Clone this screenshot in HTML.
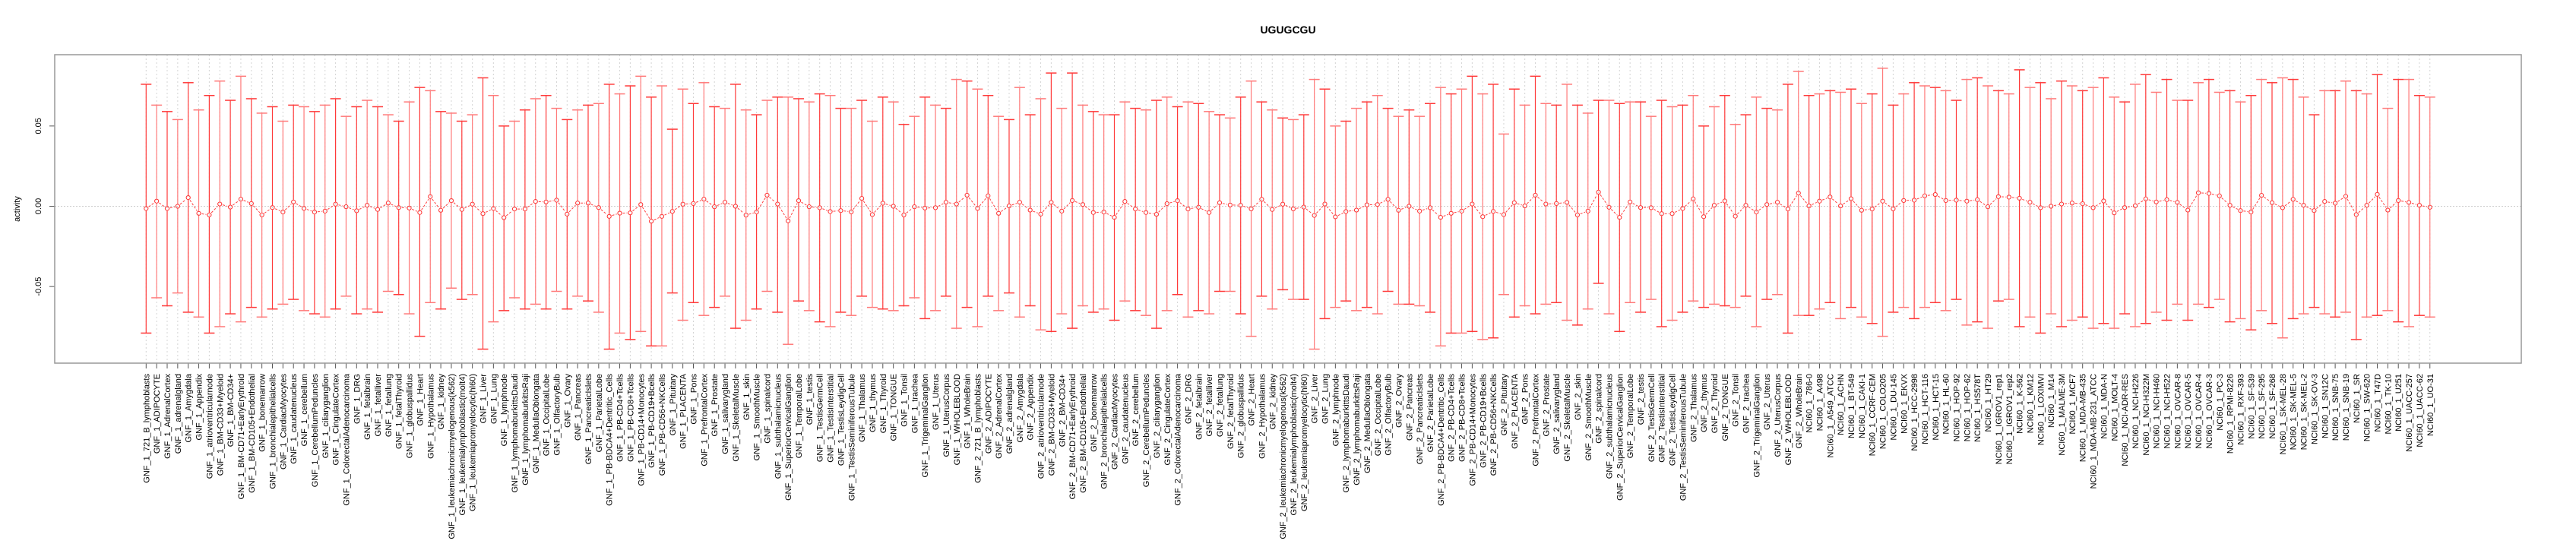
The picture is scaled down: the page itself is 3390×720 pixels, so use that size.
<!DOCTYPE html>
<html><head><meta charset="utf-8"><style>
html,body{margin:0;padding:0;background:#fff}
svg{display:block;font-family:"Liberation Sans",Arial,sans-serif}
</style></head><body>
<svg id="chart" width="3390" height="720" viewBox="0 0 3390 720" xmlns="http://www.w3.org/2000/svg">
<text x="1695" y="44" text-anchor="middle" font-size="14" font-weight="bold">UGUGCGU</text>
<g id="grid"></g><g id="bars"></g><g id="xlabels"></g><g id="yaxis"></g>
<rect x="72" y="72" width="3246" height="406" fill="none" stroke="#999" stroke-width="1.5"/>
<text transform="translate(26,275) rotate(-90)" text-anchor="middle" font-size="11">activity</text>
</svg>
<script>
const tissues=["721_B_lymphoblasts","ADIPOCYTE","AdrenalCortex","adrenalgland","Amygdala","Appendix","atrioventricularnode","BM-CD33+Myeloid","BM-CD34+","BM-CD71+EarlyErythroid","BM-CD105+Endothelial","bonemarrow","bronchialepithelialcells","CardiacMyocytes","caudatenucleus","cerebellum","CerebellumPeduncles","ciliaryganglion","CingulateCortex","ColorectalAdenocarcinoma","DRG","fetalbrain","fetalliver","fetallung","fetalThyroid","globuspallidus","Heart","Hypothalamus","kidney","leukemiachronicmyelogenous(k562)","leukemialymphoblastic(molt4)","leukemiapromyelocytic(hl60)","Liver","Lung","lymphnode","lymphomaburkittsDaudi","lymphomaburkittsRaji","MedullaOblongata","OccipitalLobe","OlfactoryBulb","Ovary","Pancreas","PancreaticIslets","ParietalLobe","PB-BDCA4+Dentritic_Cells","PB-CD4+Tcells","PB-CD8+Tcells","PB-CD14+Monocytes","PB-CD19+Bcells","PB-CD56+NKCells","Pituitary","PLACENTA","Pons","PrefrontalCortex","Prostate","salivarygland","SkeletalMuscle","skin","SmoothMuscle","spinalcord","subthalamicnucleus","SuperiorCervicalGanglion","TemporalLobe","testis","TestisGermCell","TestisInterstitial","TestisLeydigCell","TestisSeminiferousTubule","Thalamus","thymus","Thyroid","TONGUE","Tonsil","trachea","TrigeminalGanglion","Uterus","UterusCorpus","WHOLEBLOOD","WholeBrain"];
const cellLines=["786-0","A498","A549_ATCC","ACHN","BT-549","CAKI-1","CCRF-CEM","COLO205","DU-145","EKVX","HCC-2998","HCT-116","HCT-15","HL-60","HOP-92","HOP-62","HS578T","HT29","IGROV1_rep1","IGROV1_rep2","K-562","KM12","LOXIMVI","M14","MALME-3M","MCF7","MDA-MB-435","MDA-MB-231_ATCC","MDA-N","MOLT-4","NCI-ADR-RES","NCI-H226","NCI-H322M","NCI-H460","NCI-H522","OVCAR-8","OVCAR-5","OVCAR-4","OVCAR-3","PC-3","RPMI-8226","RXF-393","SF-539","SF-295","SF-268","SK-MEL-28","SK-MEL-5","SK-MEL-2","SK-OV-3","SN12C","SNB-75","SNB-19","SR","SW-620","T47D","TK-10","U251","UACC-257","UACC-62","UO-31"];
const categories=tissues.map(t=>"GNF_1_"+t).concat(tissues.map(t=>"GNF_2_"+t)).concat(cellLines.map(c=>"NCI60_1_"+c));
// values in thousandths of activity
const means=[-1.4,3.2,-1.4,0,5.4,-4.4,-5.4,1.4,-0.5,4.4,1.7,-5.4,-0.8,-3.6,2.7,-1.3,-3.6,-3,1.3,-0.3,-2.8,0.6,-2,2,-0.8,-1.1,-3.9,6,-2.5,3.5,-2,1.3,-4.6,-1.4,-7.1,-1.7,-1.7,3,2.7,3.8,-4.9,2,2,-0.8,-6.3,-4.3,-4.1,1.1,-9.3,-6.3,-3.2,1.3,1.7,4.4,-0.3,2.5,0,-5.5,-3.6,6.9,1.4,-9.1,3.5,-0.3,-0.9,-3.3,-2.7,-3.5,4.9,-5.2,1.9,0,-5.4,-0.3,-1.1,
-0.9,2.5,1.4,6.9,-1.3,6.5,-4.4,0.2,2.5,-2.4,-4.9,2.4,-3,3.6,1.1,-3.9,-3.6,-6.9,3,-1.7,-3.9,-5,1.6,3.5,-1.7,-0.6,-3.9,2.2,0.8,0.6,-1.6,4.3,-2,1.3,-1.6,-0.5,-5.7,1.4,-6.6,-3.3,-2.4,0.9,1.1,4.3,-2.5,0,-3,-0.9,-6.9,-4.4,-3,1.4,-6.5,-3.2,-5.2,2.2,0.2,6.9,1.4,1.7,2.4,-5.4,-3,8.8,-0.6,-6.9,2.7,-0.8,-0.9,-4.6,-4.6,-1.4,4.6,-6.5,0.6,
3.3,-6.2,0.6,-3.6,1.1,2.5,-1.7,8.2,0.2,3.2,5.8,0.2,4.7,-2.5,-1.7,3.2,-1.6,3.6,3.8,6.5,7.3,3.6,3.8,3.2,4.1,-0.3,6,5.7,5,2.5,-0.9,0,1.4,2,1.6,-0.9,3.3,-4.1,-0.8,0.3,4.6,2.7,4.1,2.4,-2.4,8.4,8,6.5,0.6,-2.7,-3.6,6.8,2.2,-0.9,4.3,0.6,-2.7,3,1.9,6.2,-5.2,0.6,7.4,-2.4,3.6,2.4,0.6,-0.6];
const uppers=[76,63,59,54,77,60,69,78,66,81,67,58,62,53,63,62,59,63,67,56,62,66,62,57,53,65,74,72,59,58,53,57,80,69,50,53,60,67,69,61,54,60,63,64,76,70,75,81,68,75,48,73,64,77,62,61,76,60,57,66,68,68,67,65,70,69,61,61,66,53,68,65,51,56,68,
63,61,79,78,73,69,56,54,74,57,67,83,61,83,63,59,57,57,65,61,60,66,68,62,65,64,59,57,55,68,78,65,60,55,54,57,79,73,50,53,61,65,69,61,56,60,56,64,74,70,73,81,70,76,45,73,63,81,64,63,76,63,58,66,66,64,65,65,56,66,62,63,69,50,62,
69,51,57,68,61,60,76,84,69,70,72,71,73,64,70,86,63,70,77,75,74,72,66,79,80,75,72,70,85,74,77,67,78,75,72,74,80,68,65,76,82,71,79,66,66,77,79,71,72,65,69,79,77,80,79,68,57,72,72,78,72,70,82,61,79,79,69,68];
const lowers=[-79,-57,-62,-54,-66,-69,-79,-75,-67,-72,-63,-69,-64,-61,-58,-65,-67,-69,-64,-56,-67,-64,-66,-53,-55,-67,-81,-60,-64,-51,-58,-55,-89,-72,-65,-57,-64,-61,-64,-53,-64,-56,-59,-66,-89,-79,-83,-78,-87,-87,-54,-71,-60,-68,-63,-56,-76,-71,-64,-53,-66,-86,-59,-65,-72,-75,-66,-68,-56,-63,-64,-65,-62,-57,-70,
-65,-56,-76,-63,-75,-56,-65,-54,-69,-62,-77,-78,-67,-76,-62,-66,-64,-71,-59,-65,-68,-76,-65,-55,-69,-65,-67,-53,-53,-67,-81,-56,-64,-52,-58,-58,-89,-70,-63,-59,-65,-63,-67,-53,-61,-61,-62,-66,-87,-79,-79,-78,-83,-82,-55,-69,-62,-67,-61,-60,-71,-74,-64,-48,-67,-78,-60,-66,-58,-75,-71,-66,-59,-63,-61,
-62,-63,-56,-75,-58,-55,-79,-68,-68,-64,-60,-70,-63,-69,-73,-81,-66,-63,-70,-63,-60,-65,-58,-74,-72,-76,-59,-58,-75,-69,-79,-67,-75,-71,-69,-76,-73,-76,-67,-75,-73,-66,-71,-61,-71,-61,-63,-58,-72,-70,-77,-65,-73,-82,-70,-67,-63,-67,-69,-66,-83,-69,-68,-65,-72,-75,-68,-69];
const yTicks=[-0.05,0,0.05];
const yTickLabels=["-0.05","0.00","0.05"];

const NS="http://www.w3.org/2000/svg";
const X0=192.3, DX=13.85;
function xScale(i){return X0+DX*i;}
function yScale(v){return 271.5-v*2113;}
function mk(tag,attrs,parent){const e=document.createElementNS(NS,tag);for(const k in attrs)e.setAttribute(k,attrs[k]);parent.appendChild(e);return e;}
const grid=document.getElementById('grid'),bars=document.getElementById('bars'),xl=document.getElementById('xlabels'),ya=document.getElementById('yaxis');
// horizontal zero line
const hz=mk('line',{x1:72,x2:3318,y1:yScale(0),y2:yScale(0),stroke:'#ccc','stroke-dasharray':'2,2'},grid);


categories.forEach((c,i)=>{
  const x=xScale(i);
  const g=mk('line',{x1:x,x2:x,y1:72,y2:478,stroke:'#d4d4d4','stroke-dasharray':'2,3'},grid);
  
  
  const t=mk('line',{x1:x,x2:x,y1:478,y2:485,stroke:'#555'},xl);
  
  
  const lb=mk('text',{transform:`translate(${x+4},492) rotate(-90)`,'text-anchor':'end','font-size':'11',fill:'#000'},xl);
  lb.textContent=c;
  
  
});
// connecting line segments
for(let i=0;i<means.length-1;i++){
  const x1=xScale(i),y1=yScale(means[i]/1000),x2=xScale(i+1),y2=yScale(means[i+1]/1000);
  const dx=x2-x1,dy=y2-y1,L=Math.hypot(dx,dy);
  if(L<8)continue;
  const ux=dx/L,uy=dy/L;
  const s=mk('line',{x1:x1+ux*4,y1:y1+uy*4,x2:x2-ux*4,y2:y2-uy*4,stroke:'#ff4040','stroke-width':1,'stroke-dasharray':'3,2'},bars);
  
  
}
means.forEach((m,i)=>{
  const x=xScale(i),yu=yScale(uppers[i]/1000),yl=yScale(lowers[i]/1000),ym=yScale(m/1000);
  const col=i%2?'#ff7a7a':'#ff3a3a';
  const g=mk('g',{},bars);
  
  
  mk('line',{x1:x,x2:x,y1:yu,y2:ym-3,stroke:col,'stroke-width':1.2},g);
  mk('line',{x1:x,x2:x,y1:ym+3,y2:yl,stroke:col,'stroke-width':1.2},g);
  mk('line',{x1:x-7,x2:x+7,y1:yu,y2:yu,stroke:col,'stroke-width':1.5},g);
  mk('line',{x1:x-7,x2:x+7,y1:yl,y2:yl,stroke:col,'stroke-width':1.5},g);
  const p=mk('circle',{cx:x,cy:ym,r:2.6,fill:'none',stroke:'#ff3030','stroke-width':1},bars);
  
  
});
yTicks.forEach((v,k)=>{
  const y=yScale(v);
  const t=mk('line',{x1:65,x2:72,y1:y,y2:y,stroke:'#555'},ya);
  
  
  const lb=mk('text',{transform:`translate(54,${y}) rotate(-90)`,'text-anchor':'middle','font-size':'11'},ya);
  lb.textContent=yTickLabels[k];
  
  
});
const axl=mk('line',{x1:72,x2:72,y1:yScale(-0.05),y2:yScale(0.05),stroke:'#555'},ya);


</script>
</body></html>
